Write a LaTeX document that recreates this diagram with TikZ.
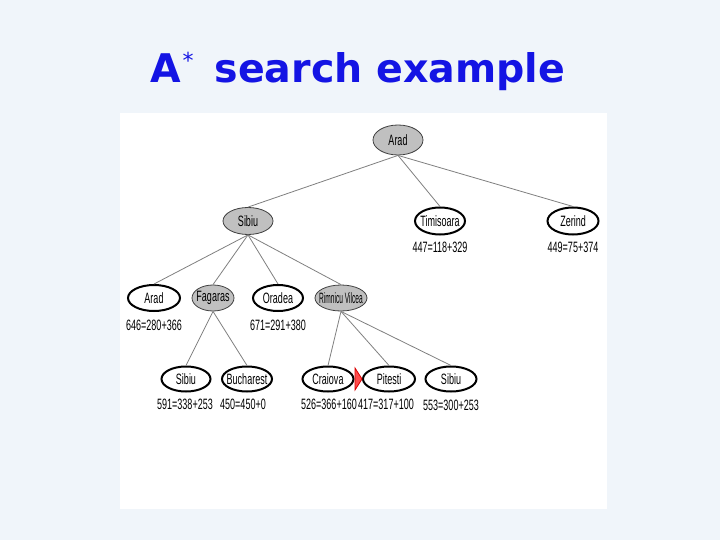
\documentclass[tikz,border=0pt]{standalone}
\usepackage{fontspec}
\usetikzlibrary{shapes.geometric}
\newfontfamily\titlefont{DejaVu Sans}
\newfontfamily\nodefont[FakeStretch=0.6]{Liberation Sans}
\newfontfamily\nodefontN[FakeStretch=0.44]{Liberation Sans}
\definecolor{bgcol}{RGB}{240,245,250}
\definecolor{titleblue}{RGB}{20,20,228}
\definecolor{nodegray}{RGB}{192,192,192}
\definecolor{edgegray}{RGB}{128,128,128}
\newcommand{\nt}[1]{\makebox[0pt]{#1}}
\tikzset{
  base/.style={ellipse, inner sep=0pt, minimum width=50pt, minimum height=26pt,
    font=\nodefont\fontsize{15}{15}\selectfont},
  expanded/.style={base, fill=nodegray, draw=black!75, line width=0.8pt},
  frontier/.style={base, fill=white, draw=black, line width=2pt},
  cost/.style={inner sep=0pt, font=\nodefont\fontsize{15}{15}\selectfont},
  edge/.style={draw=edgegray, line width=0.8pt}
}
\begin{document}
\begin{tikzpicture}[x=1pt,y=-1pt]
\useasboundingbox (0,0) rectangle (720,540);
\fill[bgcol] (0,0) rectangle (720,540);
\fill[white] (120,113) rectangle (607,509);
\node[anchor=base west, inner sep=0pt, text=titleblue, font=\titlefont\bfseries\fontsize{39.5}{39.5}\selectfont] (title) at (150,83)
  {A\hspace{0.05em}\raisebox{0.36em}{\mdseries\fontsize{22}{22}\selectfont *}\hspace{0.18em} search example};
% level 1
\node[expanded, minimum width=50pt, minimum height=30pt] (arad0) at (398,140) {\nt{Arad}};
% level 2
\node[expanded, minimum height=27pt] (sibiu1) at (248,221) {\nt{Sibiu}};
\node[frontier, minimum height=27pt] (tim) at (440,221) {\nt{Timisoara}};
\node[frontier, minimum height=27pt, minimum width=51pt] (zer) at (573,221) {\nt{Zerind}};
\node[cost] (ltim) at (440,247) {447=118+329};
\node[cost] (lzer) at (573,247) {449=75+374};
% level 3
\node[frontier, minimum width=52pt] (arad2) at (154,298) {\nt{Arad}};
\node[expanded, minimum width=42pt] (fag) at (213,298) {\nt{Fagaras}};
\node[frontier] (orad) at (278,298) {\nt{Oradea}};
\node[expanded, minimum width=52pt] (rim) at (341,298) {\nt{\nodefontN Rimnicu Vilcea}};
\node[cost] (larad2) at (154,325) {646=280+366};
\node[cost] (lorad) at (278,325) {671=291+380};
% level 4
\node[frontier, minimum width=49pt, minimum height=25pt] (sib3) at (186,379) {\nt{Sibiu}};
\node[frontier, minimum height=25pt] (buc) at (247,379) {\nt{Bucharest}};
\node[frontier, minimum width=51pt, minimum height=25pt] (cra) at (328,379) {\nt{Craiova}};
\node[frontier, minimum width=52pt, minimum height=25pt] (pit) at (389,379) {\nt{Pitesti}};
\node[frontier, minimum width=51pt, minimum height=25pt] (sib4) at (451,379) {\nt{Sibiu}};
\node[cost] (lsib3) at (185,404) {591=338+253};
\node[cost] (lbuc) at (243,404) {450=450+0};
\node[cost] (lcra) at (329,404) {526=366+160};
\node[cost] (lpit) at (386,404) {417=317+100};
\node[cost] (lsib4) at (451,405) {553=300+253};
% edges
\path[edge] (arad0.south) -- (sibiu1.north);
\path[edge] (arad0.south) -- (tim.north);
\path[edge] (arad0.south) -- (zer.north);
\path[edge] (sibiu1.south) -- (arad2.north);
\path[edge] (sibiu1.south) -- (fag.north);
\path[edge] (sibiu1.south) -- (orad.north);
\path[edge] (sibiu1.south) -- (rim.north);
\path[edge] (fag.south) -- (sib3.north);
\path[edge] (fag.south) -- (buc.north);
\path[edge] (rim.south) -- (cra.north);
\path[edge] (rim.south) -- (pit.north);
\path[edge] (rim.south) -- (sib4.north);
% marker
\filldraw[draw=red!85!black, fill=red!70, line width=0.8pt] (355,368) -- (362,379) -- (355,390) -- cycle;
\end{tikzpicture}
\end{document}
